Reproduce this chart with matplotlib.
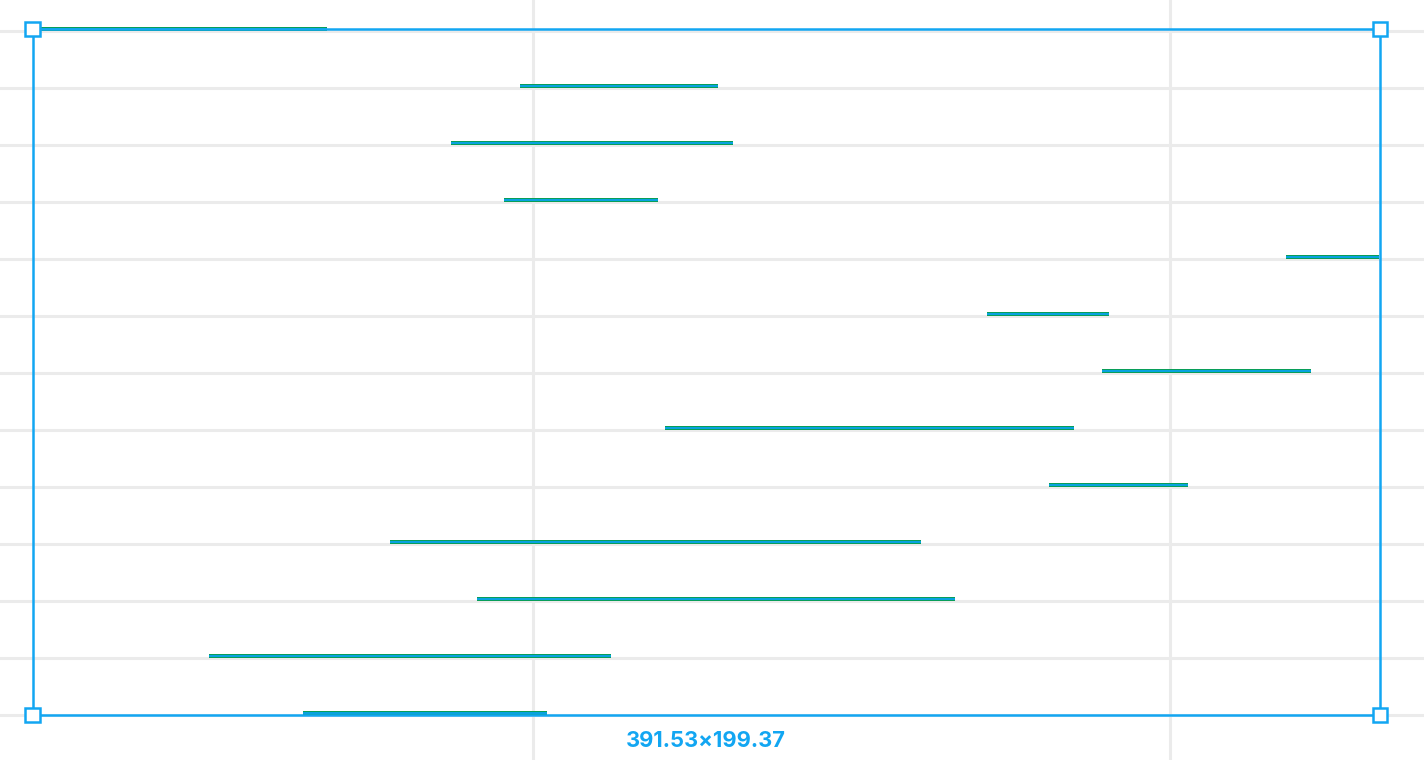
import matplotlib
matplotlib.use("Agg")
import matplotlib.pyplot as plt
from matplotlib.patches import Rectangle

# --- data (horizontal axis in pixel-like units, rows top to bottom) ---
rows = list(range(13))
starts = [32, 520, 451, 504, 1286, 987, 1102, 665, 1049, 390, 477, 209, 303]
ends = [327, 718, 733, 658, 1379, 1109, 1311, 1074, 1188, 921, 955, 611, 547]
x_gridlines = [533, 1170]
size_label = "391.53×199.37"

W, H = 1424, 760
fig = plt.figure(figsize=(W / 100, H / 100), dpi=100)
ax = fig.add_axes([0, 0, 1, 1])
ax.set_xlim(0, W)
row0, step = 31.0, 57.0
ax.set_ylim((H - row0) / step, -row0 / step)
ax.axis("off")

grid_c = "#ebebeb"
for r in rows:
    ax.axhline(r, color=grid_c, lw=2.2, zorder=0)
for gx in x_gridlines:
    ax.axvline(gx, color=grid_c, lw=2.2, zorder=0)

off = -2.0 / step
ys = [r + off for r in rows]
ax.hlines(ys, starts, ends, color="#0a9e4a", lw=4 * 0.72, zorder=2,
          capstyle="butt", snap=False)
ax.hlines(ys, starts, ends, color="#08a2e0", lw=2.2 * 0.72, zorder=3,
          capstyle="butt", snap=False)

# selection overlay in pixel coordinates
blue = "#12a6f2"
x0, y0, x1, y1 = 32.5, 29, 1379.5, 715
tf = fig.transFigure
def px(x, y):
    return x / W, 1 - y / H

rect = Rectangle(px(x0, y1), (x1 - x0) / W, (y1 - y0) / H, transform=tf,
                 fill=False, ec=blue, lw=1.8, zorder=5)
fig.add_artist(rect)
hs = 14
for (hx, hy) in [(x0, y0), (x1, y0), (x0, y1), (x1, y1)]:
    fig.add_artist(Rectangle(px(hx - hs / 2, hy + hs / 2), hs / W, hs / H, transform=tf,
                             fc="white", ec=blue, lw=1.8, zorder=6))

fig.text(705.5 / W, 1 - 741 / H, size_label, color=blue, fontsize=15.8,
         fontweight="bold", family=["Inter", "DejaVu Sans"], ha="center", va="center")

fig.savefig("out.png", dpi=100)
